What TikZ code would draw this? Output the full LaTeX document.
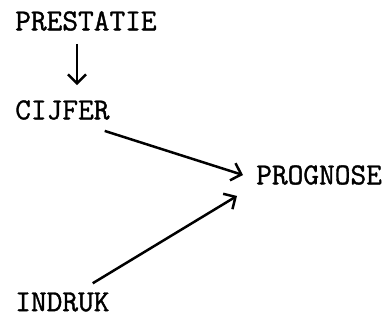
\documentclass[tikz,border=0pt]{standalone}
\usepackage{fontspec}
\setmonofont[FakeBold=1.2]{Latin Modern Mono}
\usepackage{tikz}
\usetikzlibrary{arrows.meta}

\tikzset{
    term/.style={anchor=west,inner sep=0pt,font=\fontsize{30.5}{33}\selectfont\ttfamily},
}

\begin{document}
\begin{tikzpicture}[x=1pt,y=-1pt,line width=2.5pt,>={Straight Barb[length=9pt,width=18pt]}]
    \useasboundingbox (0,0) rectangle (385,321);
    \node[term] (prestatie) at (14,21) {PRESTATIE};
    \node[term] (cijfer) at (14,110) {CIJFER};
    \node[term] (prognose) at (255,175) {PROGNOSE};
    \node[term] (indruk) at (14,302) {INDRUK};
    \draw[->] ([shift={(63,12)}]prestatie.south west) -- ([shift={(63,-14)}]cijfer.north west);
    \draw[->] ([shift={(-6,10)}]cijfer.south east) -- ([shift={(-12,0)}]prognose.west);
    \draw[->] ([shift={(-18,-8)}]indruk.north east) -- ([shift={(-18,10)}]prognose.south west);
\end{tikzpicture}
\end{document}
